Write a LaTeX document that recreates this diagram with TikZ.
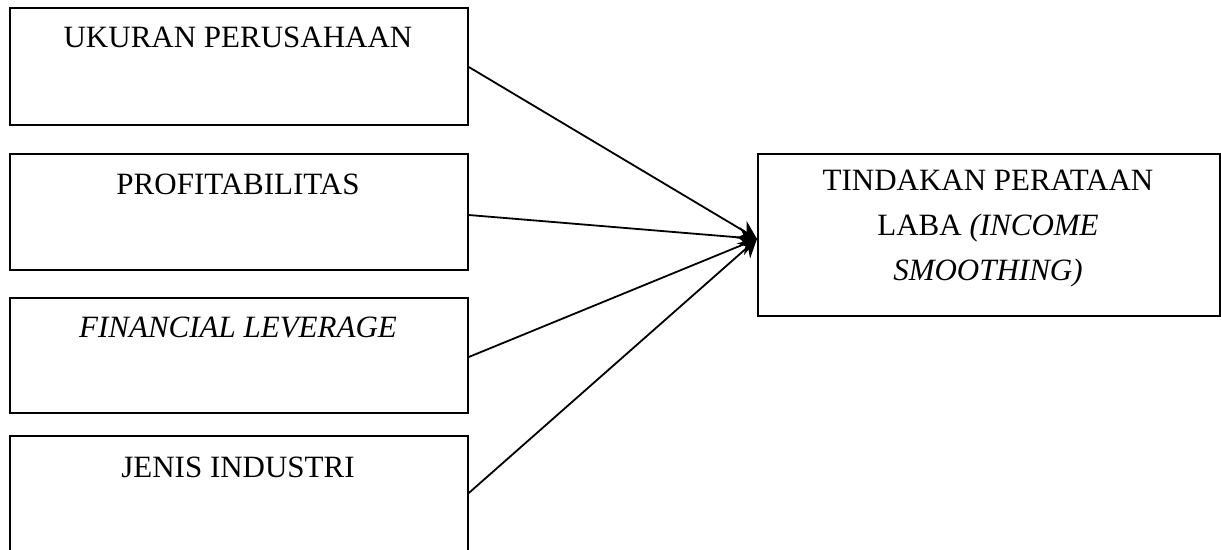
\documentclass[tikz,border=0pt]{standalone}
\usepackage{fontspec}
\setmainfont{Liberation Serif}
\usetikzlibrary{arrows.meta,calc}
\begin{document}
\begin{tikzpicture}[x=1pt,y=-1pt,
  box/.style={draw,line width=1.8pt,rectangle,inner sep=0pt},
  lbl/.style={font=\fontsize{31}{45}\selectfont,align=center,inner sep=0pt},
  link/.style={line width=1.8pt,-{Stealth[length=18pt,width=20pt]}}]
\useasboundingbox (0,0) rectangle (1221,549);
\node[box,minimum width=458pt,minimum height=117pt,anchor=north west] (b1) at (9,7) {};
\node[box,minimum width=458pt,minimum height=116pt,anchor=north west] (b2) at (9,153) {};
\node[box,minimum width=458pt,minimum height=115pt,anchor=north west] (b3) at (9,297) {};
\node[box,minimum width=458pt,minimum height=130pt,anchor=north west] (b4) at (9,435) {};
\node[box,minimum width=462pt,minimum height=162pt,anchor=north west] (t) at (757,153) {};
\node[lbl] (l1) at (238,37) {UKURAN PERUSAHAAN};
\node[lbl] (l2) at (238,184) {PROFITABILITAS};
\node[lbl] (l3) at (238,327) {\itshape FINANCIAL LEVERAGE};
\node[lbl] (l4) at (238,467) {JENIS INDUSTRI};
\node[lbl] (lt) at (988,229) {TINDAKAN PERATAAN\\LABA \textit{(INCOME}\\\textit{SMOOTHING)}};
\coordinate (tip) at ($(t.west)+(0,4)$);
\draw[link] ($(b1.north east)+(0,60)$) -- (tip);
\draw[link] ($(b2.north east)+(0,62)$) -- (tip);
\draw[link] ($(b3.north east)+(0,60)$) -- (tip);
\draw[link] ($(b4.north east)+(0,58)$) -- (tip);
\end{tikzpicture}
\end{document}
